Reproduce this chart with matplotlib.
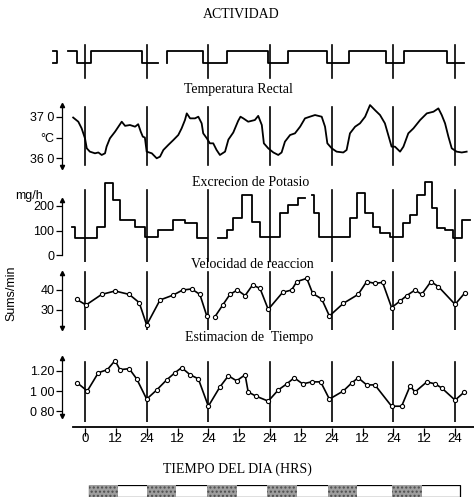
import matplotlib
matplotlib.use("Agg")
import matplotlib.pyplot as plt
from matplotlib.patches import Rectangle

nan = float("nan")
W, H = 474, 503

# hours, 0 = first midnight
midnights = [0, 24, 48, 72, 96, 120, 144]
hour_ticks = [0, 12, 24, 36, 48, 60, 72, 84, 96, 108, 120, 132, 144]
hour_labels = ["0", "12", "24", "12", "24", "12", "24", "12", "24", "12", "24", "12", "24"]

# activity (1 = awake, 0 = asleep), switching times
act_frag_t = [-12.3, -10.8, -10.8, -12.3]
act_frag_v = [1, 1, 0, 0]
act_t = [-6.6, -3.1, 2.3, 22.0, 28.3, nan,
         31.8, 31.8, 46.0, 55.4, 71.2, 79.0, 94.0, 102.6, 117.3, 124.3, 140.9, 147.5]
act_v = [1, 0, 1, 0, 0, nan,
         0, 1, 0, 1, 0, 1, 0, 1, 0, 1, 0, 0]

# rectal temperature (deg C)
temp_t = [-4.6, -2.6, -1.3, 0.0, 0.7, 1.9, 3.9, 5.2, 6.5, 7.8, 8.4, 9.7, 11.7, 13.0, 14.3,
          15.6, 17.5, 19.5, 20.7, 21.7, 22.5, 23.3, 24.0, 26.0, 27.9, 29.2, 30.5, 32.4, 34.4,
          36.3, 37.6, 38.9, 39.6, 40.9, 42.8, 44.1, 45.4, 46.0, 47.4, 48.6, 49.9, 51.2, 52.5,
          54.5, 55.8, 57.7, 59.6, 60.5, 61.6, 63.5, 66.1, 67.4, 68.8, 69.6, 71.3, 73.3, 75.2,
          76.5, 77.8, 79.8, 81.7, 83.7, 85.6, 87.5, 89.5, 92.1, 93.4, 94.3, 96.0, 97.9, 100.5,
          101.8, 103.1, 105.1, 107.0, 109.0, 110.9, 112.8, 114.8, 116.7, 118.0, 119.3, 120.6,
          122.6, 123.9, 125.8, 127.8, 130.4, 133.0, 135.6, 137.5, 138.8, 140.1, 141.4, 142.7,
          144.6, 146.6, 148.5]
temp_v = [36.98, 36.88, 36.72, 36.48, 36.24, 36.16, 36.12, 36.14, 36.08, 36.12, 36.28, 36.48,
          36.64, 36.76, 36.88, 36.78, 36.80, 36.76, 36.82, 36.64, 36.52, 36.50, 36.16, 36.12,
          36.00, 36.04, 36.20, 36.32, 36.44, 36.56, 36.72, 36.92, 37.08, 36.96, 36.96, 37.00,
          36.84, 36.60, 36.48, 36.36, 36.36, 36.20, 36.08, 36.16, 36.45, 36.62, 36.90, 37.00,
          36.96, 36.88, 36.92, 37.02, 36.80, 36.36, 36.24, 36.14, 36.08, 36.14, 36.40, 36.56,
          36.60, 36.76, 36.96, 37.00, 37.04, 37.00, 36.76, 36.36, 36.24, 36.16, 36.14, 36.20,
          36.60, 36.76, 36.84, 37.00, 37.28, 37.16, 37.04, 36.84, 36.56, 36.28, 36.28, 36.16,
          36.28, 36.60, 36.72, 36.92, 37.08, 37.12, 37.20, 37.04, 36.84, 36.52, 36.24, 36.16,
          36.14, 36.16]

# potassium excretion (mg/h), step start times
pot_t = [-5.2, -3.9, 4.5, 7.8, 11.0, 13.6, 19.5, 23.3, 28.5, 34.4, 38.9, 43.5, 47.3, nan,
         51.9, 55.1, 57.7, 61.0, 64.9, 68.1, 75.9, 79.1, 83.0, 85.6, nan,
         88.2, 89.1, 91.2, 103.1, 105.7, 109.0, 112.2, 114.8, 118.7, 123.9, 126.5, 129.1,
         132.3, 134.9, 136.8, 140.1, 143.3, 146.6, 149.8]
pot_v = [115, 68, 115, 293, 224, 143, 115, 75, 102, 143, 129, 68, 68, nan,
         68, 102, 150, 245, 136, 75, 170, 204, 231, 231, nan,
         245, 170, 75, 150, 252, 170, 115, 89, 75, 129, 163, 245,
         299, 191, 109, 102, 68, 143, 143]

# reaction speed (sums/min)
vel_t = [-3.2, 0.4, 6.5, 11.7, 17.2, 21.1, 24.0, 29.2, 34.4, 38.0, 41.5, 44.7, 47.4, nan,
         50.6, 53.6, 56.4, 59.3, 62.3, 65.2, 68.1, 71.3, 76.9, 80.4, 82.4, 86.3, 88.6, 92.1,
         95.1, 100.5, 106.3, 109.6, 112.8, 115.8, 119.3, 122.6, 125.2, 128.4, 131.0, 134.6,
         137.5, 144.0, 147.9]
vel_v = [35.3, 32.5, 37.8, 39.5, 37.8, 33.7, 22.5, 35.0, 37.5, 40.0, 40.5, 37.8, 27.0, nan,
         26.7, 32.5, 37.8, 40.0, 37.2, 42.5, 40.8, 30.3, 38.8, 40.0, 44.2, 45.8, 38.3, 35.5,
         27.0, 33.3, 37.8, 44.2, 43.3, 43.8, 31.2, 34.5, 37.2, 40.0, 37.8, 44.2,
         41.7, 32.8, 38.7]

# time estimation (ratio)
est_t = [-3.0, 0.9, 5.2, 8.7, 11.7, 13.6, 17.2, 20.1, 24.0, 27.9, 31.8, 35.0, 37.6, 40.9,
         44.1, 48.0, 52.5, 55.8, 59.0, 62.3, 63.5, 66.5, 71.3, 75.2, 78.5, 81.4, 84.7, 88.2,
         91.7, 95.1, 100.5, 103.8, 106.3, 109.6, 112.8, 119.3, 123.2, 126.5, 128.4, 133.0,
         136.2, 138.8, 144.0, 147.6]
est_v = [1.08, 1.00, 1.18, 1.21, 1.30, 1.21, 1.22, 1.12, 0.92, 1.01, 1.11, 1.18, 1.23, 1.16,
         1.12, 0.85, 1.04, 1.15, 1.10, 1.16, 0.99, 0.95, 0.90, 1.01, 1.07, 1.13, 1.07, 1.09,
         1.09, 0.92, 1.00, 1.08, 1.13, 1.06, 1.06, 0.85, 0.85, 1.05, 0.99, 1.09,
         1.07, 1.03, 0.91, 0.99]

# light/dark bar
dark_start = [1.5, 24.0, 47.5, 71.0, 94.5, 119.5]
dark_len = 11.5
bar_span = (1.5, 146.0)

SERIF = ["Liberation Serif", "DejaVu Serif"]
SANS = ["Liberation Sans", "DejaVu Sans"]
plt.rcParams["font.family"] = SANS

fig = plt.figure(figsize=(W / 100, H / 100), dpi=100)
XL = (-14.0, 151.36)   # 0 h at x=85px, 2.57 px per hour
SPINE_X = -9.0


def panel(top, bottom, pa, va, pb, vb):
    ax = fig.add_axes([49 / W, 1 - bottom / H, 425 / W, (bottom - top) / H])
    k = (vb - va) / (pb - pa)
    ax.set_ylim(va + (bottom - pa) * k, va + (top - pa) * k)
    ax.set_xlim(*XL)
    ax.patch.set_visible(False)
    for s in ["top", "right", "bottom", "left"]:
        ax.spines[s].set_visible(False)
    ax.set_xticks([])
    return ax


def midnight_lines(ax, top, bottom, ltop, lbot):
    h = bottom - top
    for m in midnights:
        ax.axvline(m, ymin=(bottom - lbot) / h, ymax=(bottom - ltop) / h, color="k", lw=1.2)


def left_axis(ax, lo, hi, ticks, labels, up=True, down=True):
    ax.spines["left"].set_visible(True)
    ax.spines["left"].set_position(("data", SPINE_X))
    ax.spines["left"].set_bounds(lo, hi)
    ax.spines["left"].set_linewidth(0.9)
    ax.set_yticks(ticks)
    ax.set_yticklabels(labels)
    ax.tick_params(axis="y", direction="out", length=4, width=0.9, pad=1.5, labelsize=9)
    if up:
        ax.plot([SPINE_X], [hi], marker="^", ms=3, color="k", clip_on=False)
    if down:
        ax.plot([SPINE_X], [lo], marker="v", ms=3, color="k", clip_on=False)


def title(x, y, s):
    fig.text(x / W, 1 - y / H, s, ha="center", va="center", family=SERIF, fontsize=10)


title(241, 14, "ACTIVIDAD")
title(238, 89, "Temperatura Rectal")
title(251, 183, "Excrecion de Potasio")
title(252, 264, "Velocidad de reaccion")
title(249, 338, "Estimacion de  Tiempo")
title(237, 469, "TIEMPO DEL DIA (HRS)")

# activity
ax = panel(44, 80, 51, 1, 63, 0)
midnight_lines(ax, 44, 80, 45, 78)
ax.plot(act_frag_t, act_frag_v, color="k", lw=1.3)
ax.plot(act_t, act_v, color="k", lw=1.3, drawstyle="steps-post")
ax.set_yticks([])

# temperature
ax = panel(104, 168, 116.7, 37.0, 158.3, 36.0)
midnight_lines(ax, 104, 168, 107, 165)
ax.plot(temp_t, temp_v, color="k", lw=1.3)
left_axis(ax, 35.79, 37.29, [36.0, 36.5, 37.0], ["36 0", "°C", "37 0"])

# potassium
ax = panel(180, 262, 255, 0, 230.5, 100)
midnight_lines(ax, 180, 262, 190, 262)
ax.plot(pot_t, pot_v, color="k", lw=1.3, drawstyle="steps-post")
left_axis(ax, 0, 225, [0, 100, 200], ["0", "100", "200"], down=False)
fig.text(43 / W, 1 - 196 / H, "mg/h", ha="right", va="center", fontsize=9)

# reaction speed
ax = panel(271, 330, 290, 40, 310, 30)
midnight_lines(ax, 271, 330, 272, 330)
ax.plot(vel_t, vel_v, color="k", lw=1.2, marker="o", ms=3, mfc="white", mew=0.8)
left_axis(ax, 21, 48.5, [30, 40], ["30", "40"])
fig.text(11 / W, 1 - 293 / H, "Sums/min", rotation=90, ha="center", va="center", fontsize=9)

# time estimation
ax = panel(358, 422, 391, 1.0, 370.7, 1.2)
midnight_lines(ax, 358, 422, 362, 422)
ax.plot(est_t, est_v, color="k", lw=1.2, marker="o", ms=3, mfc="white", mew=0.8)
left_axis(ax, 0.755, 1.325, [0.8, 1.0, 1.2], ["0 80", "1 00", "1.20"])

# hour axis
ax = panel(422, 432, 427, 0, 437, -1)
ax.axhline(0, xmin=(-4.7 - XL[0]) / (XL[1] - XL[0]), color="k", lw=1.3)
ax.set_xticks(hour_ticks)
ax.set_xticklabels(hour_labels)
ax.spines["bottom"].set_visible(False)
ax.tick_params(axis="x", direction="inout", length=6, width=0.9, pad=0, labelsize=9.5)
ax.set_yticks([])
for lab in ax.get_xticklabels():
    lab.set_y(0.3)

# light / dark bar
ax = panel(485, 497, 485, 1, 497, 0)
ax.add_patch(Rectangle((bar_span[0], 0), bar_span[1] - bar_span[0], 1,
                       fill=False, ec="k", lw=0.9))
ax.broken_barh([(s, dark_len) for s in dark_start], (0, 1), facecolors="0.62",
               hatch="....", edgecolor="0.3", lw=0)
ax.set_yticks([])

fig.savefig("out.png", dpi=100)
